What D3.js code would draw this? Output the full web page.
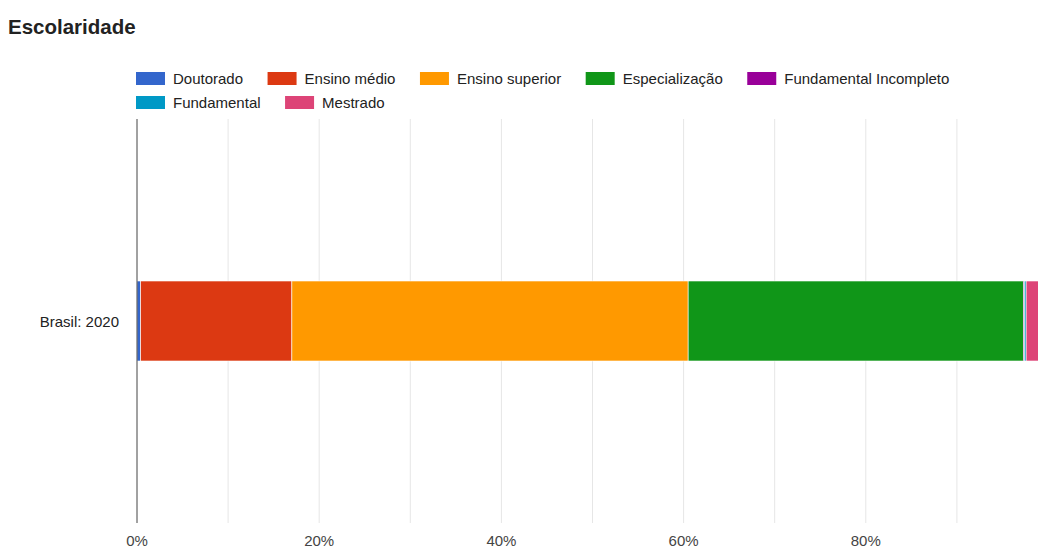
<!DOCTYPE html>
<html>
<head>
<meta charset="utf-8" />
<style>
  body { margin: 0; background: #fff; }
  svg { display: block; font-family: Arial, "Liberation Sans", sans-serif; }
</style>
</head>
<body>
<svg width="1038" height="549"></svg>
<script src="https://d3js.org/d3.v7.min.js"></script>
<script>
  // data (percent of total)
  const categories = ["Brasil: 2020"];
  const series = [
    "Doutorado",
    "Ensino médio",
    "Ensino superior",
    "Especialização",
    "Fundamental Incompleto",
    "Fundamental",
    "Mestrado",
  ];
  const values = [0.4, 16.6, 43.5, 36.8, 0.1, 0.2, 2.4];
  const colors = ["#3366cc", "#dc3912", "#ff9900", "#109618", "#990099", "#0099c6", "#dd4477"];
  const tickValues = [0, 20, 40, 60, 80];

  var svg = d3.select("svg");
  var fs = 15;

  // title
  svg.append("text")
    .attr("x", 8)
    .attr("y", 34)
    .attr("font-size", 20.5)
    .attr("font-weight", "bold")
    .attr("fill", "#222")
    .text("Escolaridade");

  // legend, flows left to right and wraps
  var legend = svg.append("g");
  var lx = 136, ly = 72, maxX = 1000;
  series.forEach((name, i) => {
    var g = legend.append("g");
    g.append("rect")
      .attr("width", 29).attr("height", 13)
      .attr("fill", colors[i]);
    var t = g.append("text")
      .attr("x", 37).attr("y", 12)
      .attr("font-size", fs)
      .attr("fill", "#222")
      .text(name);
    var w = 37 + t.node().getComputedTextLength();
    if (lx + w > maxX) { lx = 136; ly += 24; }
    g.attr("transform", `translate(${lx},${ly})`);
    lx += w + 24.5;
  });

  // scales
  var x = d3.scaleLinear().domain([0, 100]).range([137, 1048]);
  var y = d3.scaleBand().domain(categories).range([281, 361]);

  var plot = svg.append("g");

  // grid every 10%
  plot.selectAll("line.grid")
    .data(d3.range(10, 101, 10))
    .join("line")
    .attr("class", "grid")
    .attr("x1", (d) => x(d)).attr("x2", (d) => x(d))
    .attr("y1", 119).attr("y2", 523)
    .attr("stroke", "#e6e6e6")
    .attr("stroke-width", 1);

  // stacked bar
  var row = { cat: categories[0] };
  series.forEach((s, i) => (row[s] = values[i]));
  var stacked = d3.stack().keys(series)([row]);
  plot.selectAll("rect.seg")
    .data(stacked)
    .join("rect")
    .attr("class", "seg")
    .attr("x", (d) => x(d[0][0]))
    .attr("width", (d) => Math.max(0, x(d[0][1]) - x(d[0][0])))
    .attr("y", (d) => y(d[0].data.cat))
    .attr("height", y.bandwidth())
    .attr("fill", (d, i) => colors[i])
    .attr("stroke", "#fff")
    .attr("stroke-width", 0.6);

  // baseline axis
  plot.append("line")
    .attr("x1", x(0)).attr("x2", x(0))
    .attr("y1", 119).attr("y2", 523)
    .attr("stroke", "#444")
    .attr("stroke-width", 1);

  // category label
  svg.selectAll("text.cat")
    .data(categories)
    .join("text")
    .attr("class", "cat")
    .attr("x", 119)
    .attr("y", (d) => y(d) + y.bandwidth() / 2 + 6)
    .attr("text-anchor", "end")
    .attr("font-size", fs)
    .attr("fill", "#222")
    .text((d) => d);

  // x tick labels
  svg.selectAll("text.tick")
    .data(tickValues)
    .join("text")
    .attr("class", "tick")
    .attr("x", (d) => x(d))
    .attr("y", 546)
    .attr("text-anchor", "middle")
    .attr("font-size", fs)
    .attr("fill", "#444")
    .text((d) => d + "%");
</script>
</body>
</html>
